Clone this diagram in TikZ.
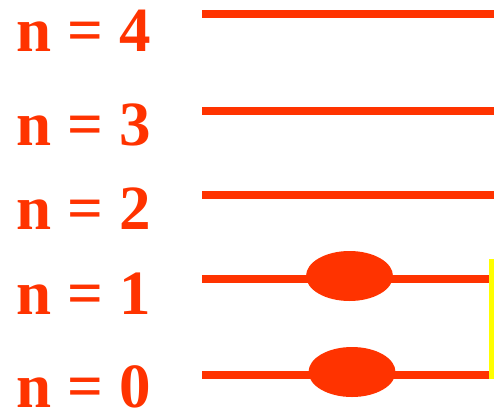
\documentclass[tikz,border=0pt]{standalone}
\usepackage{fontspec}
\setmainfont{Liberation Serif}
\usetikzlibrary{shapes.geometric}
\definecolor{levelred}{RGB}{255,51,0}
\definecolor{linkyellow}{RGB}{255,255,0}
\def\lvstart{202}
\def\lvend{494}
\def\lvendlow{490}
\tikzset{
  lvlabel/.style={font=\fontsize{63}{63}\selectfont\bfseries,text=levelred,anchor=base west,inner sep=0pt},
  lvline/.style={draw=levelred,line width=8pt},
  electron/.style={ellipse,fill=levelred,minimum width=87pt,minimum height=50pt,inner sep=0pt},
}

\begin{document}
\begin{tikzpicture}[x=1pt,y=-1pt]
  \useasboundingbox (0,0) rectangle (494,415);
  % upper levels, empty
  \foreach \n/\y/\b in {4/14/51, 3/111/145, 2/195/229} {
    \node[lvlabel] (lab\n) at (16.5,\b) {n = \n};
    \coordinate (s\n) at (\lvstart,\y);
    \coordinate (e\n) at (\lvend,\y);
    \draw[lvline] (s\n) -- (e\n);
  }
  % lower levels, each with one electron
  \foreach \n/\y/\b/\ex in {1/279/314/349.5, 0/375/407.5/352} {
    \node[lvlabel] (lab\n) at (16.5,\b) {n = \n};
    \coordinate (s\n) at (\lvstart,\y);
    \coordinate (e\n) at (\lvendlow,\y);
    \draw[lvline] (s\n) -- (e\n);
    \node[electron] (el\n) at (\ex,\y-3) {};
  }
  \coordinate (y1) at (491.5,259);
  \coordinate (y0) at (491.5,379);
  \draw[linkyellow,line width=5pt] (y1) -- (y0);
\end{tikzpicture}
\end{document}
